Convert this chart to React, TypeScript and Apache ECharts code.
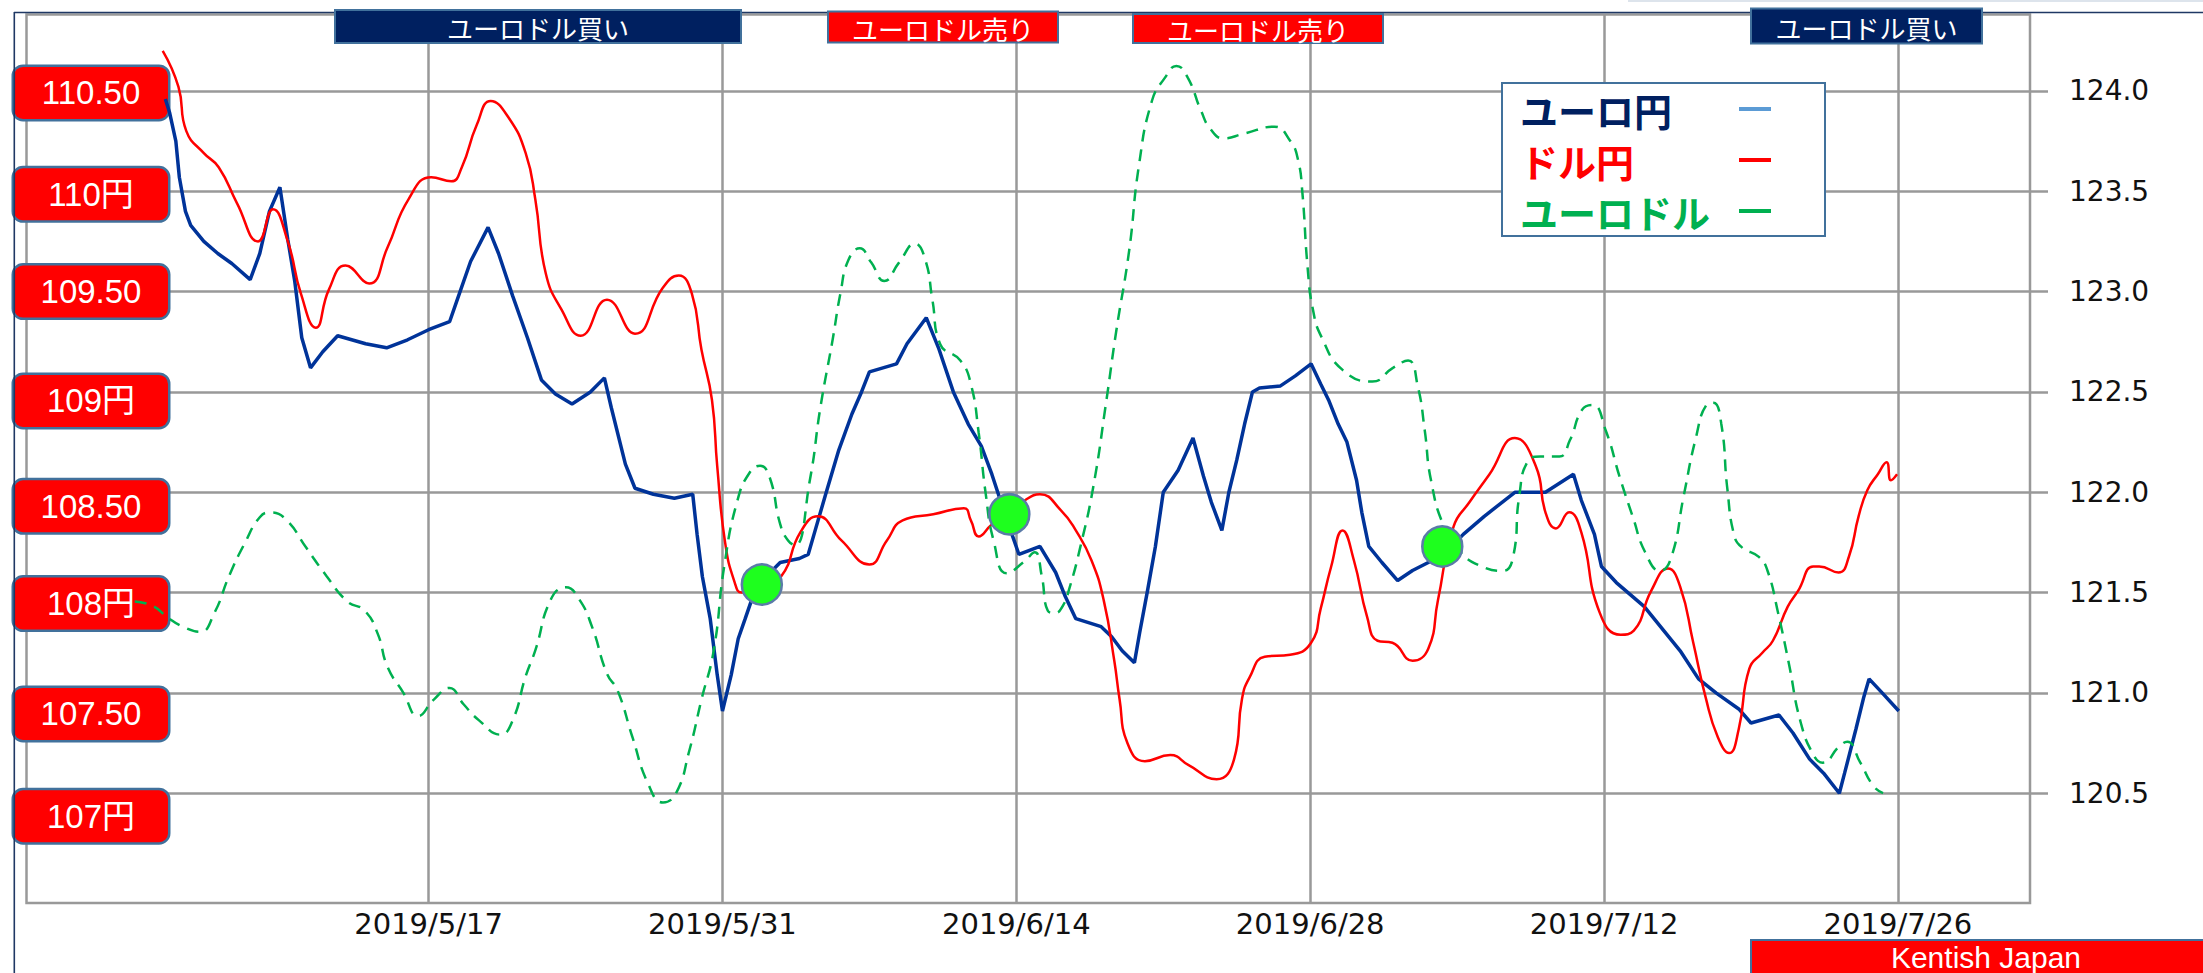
import React, { useEffect, useRef } from 'react';
import * as echarts from 'echarts';

// ---- axis ticks / labels ----
const xTickDates = ['2019-05-17', '2019-05-31', '2019-06-14', '2019-06-28', '2019-07-12', '2019-07-26'];
const rightTickValues = [120.5, 121, 121.5, 122, 122.5, 123, 123.5, 124];
const leftTickValues = [107, 107.5, 108, 108.5, 109, 109.5, 110, 110.5];
const leftTickLabels = ['107円', '107.50', '108円', '108.50', '109円', '109.50', '110円', '110.50'];
const leftLabelNudge = [23, 21, 11, 14, 9, 0, 3, 2];

const seriesNames = ['ユーロ円', 'ドル円', 'ユーロドル'];
const bannerTexts = ['ユーロドル買い', 'ユーロドル売り', 'ユーロドル売り', 'ユーロドル買い'];
const creditText = 'Kentish Japan';

// ---- ユーロ円 (right axis) ----
const eurJpyTimes = [
  '2019-05-04 11:00', '2019-05-04 16:00', '2019-05-04 23:00', '2019-05-05 03:00', '2019-05-05 10:00', '2019-05-05 16:00',
  '2019-05-06 07:00', '2019-05-06 23:00', '2019-05-07 15:00', '2019-05-08 12:00', '2019-05-08 23:00', '2019-05-09 10:00',
  '2019-05-09 22:00', '2019-05-10 07:00', '2019-05-10 15:00', '2019-05-10 23:00', '2019-05-11 09:00', '2019-05-11 23:00',
  '2019-05-12 16:00', '2019-05-13 08:00', '2019-05-14 00:00', '2019-05-15 00:00', '2019-05-16 00:00', '2019-05-17 00:00',
  '2019-05-18 00:00', '2019-05-18 08:00', '2019-05-19 00:00', '2019-05-19 20:00', '2019-05-20 08:00', '2019-05-21 00:00',
  '2019-05-21 17:00', '2019-05-22 09:00', '2019-05-23 01:00', '2019-05-23 20:00', '2019-05-24 17:00', '2019-05-25 09:00',
  '2019-05-25 17:00', '2019-05-26 09:00', '2019-05-26 20:00', '2019-05-27 17:00', '2019-05-28 17:00', '2019-05-29 14:00',
  '2019-05-29 19:00', '2019-05-30 01:00', '2019-05-30 10:00', '2019-05-30 18:00', '2019-05-31 00:00', '2019-05-31 10:00',
  '2019-05-31 18:00', '2019-06-01 02:00', '2019-06-01 13:00', '2019-06-02 02:00', '2019-06-02 18:00', '2019-06-03 16:00',
  '2019-06-04 02:00', '2019-06-04 10:00', '2019-06-04 22:00', '2019-06-05 13:00', '2019-06-06 04:00', '2019-06-06 15:00',
  '2019-06-07 00:00', '2019-06-08 07:00', '2019-06-08 19:00', '2019-06-09 17:00', '2019-06-10 07:00', '2019-06-11 00:00',
  '2019-06-11 17:00', '2019-06-12 08:00', '2019-06-12 20:00', '2019-06-13 05:00', '2019-06-13 19:00', '2019-06-14 03:00',
  '2019-06-15 03:00', '2019-06-15 21:00', '2019-06-16 08:00', '2019-06-16 20:00', '2019-06-18 01:00', '2019-06-18 13:00',
  '2019-06-19 01:00', '2019-06-19 15:00', '2019-06-19 21:00', '2019-06-20 06:00', '2019-06-20 15:00', '2019-06-21 00:00',
  '2019-06-21 17:00', '2019-06-22 10:00', '2019-06-22 22:00', '2019-06-23 07:00', '2019-06-23 19:00', '2019-06-24 03:00',
  '2019-06-24 12:00', '2019-06-24 21:00', '2019-06-25 06:00', '2019-06-25 14:00', '2019-06-26 14:00', '2019-06-27 07:00',
  '2019-06-28 01:00', '2019-06-28 12:00', '2019-06-28 21:00', '2019-06-29 08:00', '2019-06-29 18:00', '2019-06-30 05:00',
  '2019-06-30 11:00', '2019-06-30 19:00', '2019-07-01 10:00', '2019-07-02 04:00', '2019-07-02 21:00', '2019-07-03 15:00',
  '2019-07-04 09:00', '2019-07-05 07:00', '2019-07-06 07:00', '2019-07-07 18:00', '2019-07-09 05:00', '2019-07-10 13:00',
  '2019-07-10 22:00', '2019-07-11 13:00', '2019-07-11 21:00', '2019-07-12 14:00', '2019-07-13 22:00', '2019-07-15 15:00',
  '2019-07-16 12:00', '2019-07-17 08:00', '2019-07-18 10:00', '2019-07-19 00:00', '2019-07-20 08:00', '2019-07-21 00:00',
  '2019-07-21 19:00', '2019-07-22 11:00', '2019-07-23 05:00', '2019-07-23 11:00', '2019-07-24 00:00', '2019-07-24 09:00',
  '2019-07-24 15:00', '2019-07-25 06:00', '2019-07-26 01:00',
];
const eurJpyValues = [
  123.96, 123.89, 123.75, 123.57, 123.40, 123.33,
  123.25, 123.19, 123.14, 123.06, 123.19, 123.40,
  123.52, 123.26, 123.05, 122.77, 122.62, 122.70,
  122.78, 122.76, 122.74, 122.72, 122.76, 122.81,
  122.85, 122.95, 123.15, 123.32, 123.19, 122.98,
  122.77, 122.56, 122.49, 122.44, 122.50, 122.57,
  122.42, 122.14, 122.02, 121.99, 121.97, 121.99,
  121.79, 121.58, 121.37, 121.09, 120.91, 121.09,
  121.27, 121.37, 121.51, 121.58, 121.65, 121.67,
  121.69, 121.81, 121.99, 122.21, 122.39, 122.50,
  122.60, 122.64, 122.74, 122.87, 122.72, 122.50,
  122.34, 122.23, 122.09, 121.97, 121.79, 121.69,
  121.73, 121.60, 121.48, 121.37, 121.33, 121.28,
  121.21, 121.15, 121.30, 121.51, 121.73, 122.00,
  122.11, 122.27, 122.08, 121.95, 121.81, 122.00,
  122.16, 122.34, 122.50, 122.52, 122.53, 122.58,
  122.64, 122.54, 122.46, 122.34, 122.25, 122.06,
  121.90, 121.73, 121.65, 121.56, 121.61, 121.65,
  121.69, 121.79, 121.88, 122.00, 122.00, 122.09,
  121.96, 121.79, 121.63, 121.55, 121.43, 121.21,
  121.07, 121.00, 120.92, 120.85, 120.89, 120.80,
  120.67, 120.60, 120.50, 120.60, 120.82, 120.98,
  121.07, 121.00, 120.91,
];

// ---- ドル円 (left axis) ----
const usdJpyTimes = [
  '2019-05-04 08:00', '2019-05-05 02:00', '2019-05-05 11:00', '2019-05-06 07:00', '2019-05-07 00:00', '2019-05-07 21:00',
  '2019-05-08 21:00', '2019-05-09 14:00', '2019-05-10 07:00', '2019-05-10 22:00', '2019-05-11 15:00', '2019-05-12 06:00',
  '2019-05-13 01:00', '2019-05-14 04:00', '2019-05-15 01:00', '2019-05-16 01:00', '2019-05-17 03:00', '2019-05-18 02:00',
  '2019-05-18 14:00', '2019-05-19 07:00', '2019-05-19 23:00', '2019-05-20 19:00', '2019-05-21 15:00', '2019-05-22 02:00',
  '2019-05-22 14:00', '2019-05-23 08:00', '2019-05-24 06:00', '2019-05-25 12:00', '2019-05-26 20:00', '2019-05-28 04:00',
  '2019-05-28 22:00', '2019-05-29 13:00', '2019-05-30 00:00', '2019-05-30 12:00', '2019-05-30 18:00', '2019-05-31 03:00',
  '2019-05-31 14:00', '2019-05-31 22:00', '2019-06-01 19:00', '2019-06-02 19:00', '2019-06-03 17:00', '2019-06-04 13:00',
  '2019-06-05 16:00', '2019-06-07 00:00', '2019-06-07 20:00', '2019-06-08 14:00', '2019-06-10 01:00', '2019-06-11 12:00',
  '2019-06-11 20:00', '2019-06-12 05:00', '2019-06-12 20:00', '2019-06-14 10:00', '2019-06-15 03:00', '2019-06-16 03:00',
  '2019-06-16 20:00', '2019-06-17 14:00', '2019-06-18 04:00', '2019-06-18 16:00', '2019-06-18 22:00', '2019-06-19 07:00',
  '2019-06-20 03:00', '2019-06-21 08:00', '2019-06-22 05:00', '2019-06-23 13:00', '2019-06-24 09:00', '2019-06-24 18:00',
  '2019-06-25 03:00', '2019-06-25 20:00', '2019-06-27 01:00', '2019-06-28 01:00', '2019-06-28 12:00', '2019-06-29 00:00',
  '2019-06-29 13:00', '2019-06-30 02:00', '2019-06-30 17:00', '2019-07-01 05:00', '2019-07-01 22:00', '2019-07-02 21:00',
  '2019-07-03 15:00', '2019-07-04 02:00', '2019-07-04 20:00', '2019-07-05 14:00', '2019-07-06 13:00', '2019-07-07 18:00',
  '2019-07-08 18:00', '2019-07-09 05:00', '2019-07-09 17:00', '2019-07-10 08:00', '2019-07-10 22:00', '2019-07-11 19:00',
  '2019-07-12 19:00', '2019-07-13 10:00', '2019-07-14 06:00', '2019-07-15 01:00', '2019-07-15 15:00', '2019-07-16 06:00',
  '2019-07-16 20:00', '2019-07-17 10:00', '2019-07-17 23:00', '2019-07-18 10:00', '2019-07-18 22:00', '2019-07-19 13:00',
  '2019-07-20 01:00', '2019-07-20 18:00', '2019-07-21 06:00', '2019-07-21 23:00', '2019-07-22 06:00', '2019-07-23 04:00',
  '2019-07-23 16:00', '2019-07-24 03:00', '2019-07-24 13:00', '2019-07-25 01:00', '2019-07-25 11:00', '2019-07-25 16:00',
  '2019-07-25 23:00',
];
const usdJpyValues = [
  110.70, 110.52, 110.30, 110.19, 110.12, 109.94,
  109.75, 109.91, 109.75, 109.49, 109.32, 109.51,
  109.63, 109.54, 109.72, 109.96, 110.07, 110.05,
  110.12, 110.33, 110.45, 110.37, 110.19, 109.96,
  109.59, 109.41, 109.28, 109.46, 109.29, 109.52,
  109.58, 109.49, 109.21, 108.96, 108.63, 108.25,
  108.05, 108.00, 108.03, 108.08, 108.30, 108.38,
  108.26, 108.14, 108.26, 108.36, 108.39, 108.42,
  108.36, 108.28, 108.34, 108.46, 108.49, 108.41,
  108.31, 108.16, 107.96, 107.66, 107.47, 107.25,
  107.16, 107.19, 107.14, 107.07, 107.17, 107.47,
  107.58, 107.68, 107.69, 107.75, 107.92, 108.13,
  108.31, 108.16, 107.88, 107.76, 107.75, 107.66,
  107.72, 107.96, 108.33, 108.45, 108.59, 108.77,
  108.63, 108.40, 108.32, 108.40, 108.30, 107.90,
  107.79, 107.81, 108.01, 108.12, 108.03, 107.75,
  107.48, 107.28, 107.20, 107.32, 107.62, 107.70,
  107.76, 107.93, 108.01, 108.13, 108.13, 108.10,
  108.18, 108.38, 108.51, 108.59, 108.65, 108.56,
  108.59,
];

// ---- ユーロドル (hidden third axis) ----
const eurUsdTimes = [
  '2019-05-03 00:00', '2019-05-03 21:00', '2019-05-04 14:00', '2019-05-05 08:00', '2019-05-06 03:00', '2019-05-06 19:00',
  '2019-05-07 12:00', '2019-05-08 06:00', '2019-05-08 23:00', '2019-05-09 11:00', '2019-05-10 05:00', '2019-05-11 04:00',
  '2019-05-12 03:00', '2019-05-13 03:00', '2019-05-13 23:00', '2019-05-14 14:00', '2019-05-15 01:00', '2019-05-15 19:00',
  '2019-05-16 12:00', '2019-05-17 06:00', '2019-05-18 00:00', '2019-05-18 16:00', '2019-05-19 10:00', '2019-05-20 10:00',
  '2019-05-21 00:00', '2019-05-21 15:00', '2019-05-22 02:00', '2019-05-22 20:00', '2019-05-23 13:00', '2019-05-24 04:00',
  '2019-05-24 19:00', '2019-05-25 12:00', '2019-05-26 00:00', '2019-05-26 17:00', '2019-05-27 11:00', '2019-05-28 04:00',
  '2019-05-28 19:00', '2019-05-29 10:00', '2019-05-30 00:00', '2019-05-30 14:00', '2019-05-31 02:00', '2019-05-31 17:00',
  '2019-06-01 07:00', '2019-06-01 19:00', '2019-06-02 06:00', '2019-06-02 18:00', '2019-06-03 03:00', '2019-06-03 11:00',
  '2019-06-04 04:00', '2019-06-04 16:00', '2019-06-05 06:00', '2019-06-05 15:00', '2019-06-06 00:00', '2019-06-06 13:00',
  '2019-06-07 02:00', '2019-06-07 17:00', '2019-06-08 10:00', '2019-06-09 04:00', '2019-06-09 16:00', '2019-06-10 00:00',
  '2019-06-10 09:00', '2019-06-11 08:00', '2019-06-11 20:00', '2019-06-12 05:00', '2019-06-12 13:00', '2019-06-12 22:00',
  '2019-06-13 13:00', '2019-06-14 09:00', '2019-06-14 21:00', '2019-06-15 05:00', '2019-06-15 12:00', '2019-06-15 20:00',
  '2019-06-16 05:00', '2019-06-16 13:00', '2019-06-17 01:00', '2019-06-17 16:00', '2019-06-18 07:00', '2019-06-18 18:00',
  '2019-06-19 09:00', '2019-06-19 20:00', '2019-06-20 11:00', '2019-06-21 02:00', '2019-06-21 15:00', '2019-06-22 04:00',
  '2019-06-22 19:00', '2019-06-23 06:00', '2019-06-23 21:00', '2019-06-24 20:00', '2019-06-26 07:00', '2019-06-27 01:00',
  '2019-06-27 10:00', '2019-06-27 15:00', '2019-06-27 21:00', '2019-06-28 03:00', '2019-06-28 13:00', '2019-06-29 13:00',
  '2019-06-30 23:00', '2019-07-01 23:00', '2019-07-02 16:00', '2019-07-03 03:00', '2019-07-03 11:00', '2019-07-03 18:00',
  '2019-07-04 09:00', '2019-07-05 04:00', '2019-07-06 04:00', '2019-07-07 04:00', '2019-07-07 16:00', '2019-07-07 23:00',
  '2019-07-08 09:00', '2019-07-08 23:00', '2019-07-09 21:00', '2019-07-10 09:00', '2019-07-10 23:00', '2019-07-11 11:00',
  '2019-07-12 02:00', '2019-07-12 18:00', '2019-07-13 09:00', '2019-07-13 23:00', '2019-07-14 16:00', '2019-07-15 05:00',
  '2019-07-15 19:00', '2019-07-16 09:00', '2019-07-16 21:00', '2019-07-17 05:00', '2019-07-17 14:00', '2019-07-17 21:00',
  '2019-07-18 05:00', '2019-07-18 14:00', '2019-07-19 09:00', '2019-07-19 19:00', '2019-07-20 07:00', '2019-07-20 19:00',
  '2019-07-21 09:00', '2019-07-22 00:00', '2019-07-22 10:00', '2019-07-23 05:00', '2019-07-23 14:00', '2019-07-24 05:00',
  '2019-07-24 20:00', '2019-07-25 07:00',
];
const eurUsdValues = [
  1.1179, 1.1177, 1.1172, 1.1168, 1.1166, 1.1174,
  1.1190, 1.1204, 1.1215, 1.1217, 1.1214, 1.1202,
  1.1190, 1.1179, 1.1175, 1.1165, 1.1151, 1.1140,
  1.1130, 1.1137, 1.1142, 1.1135, 1.1128, 1.1122,
  1.1128, 1.1147, 1.1158, 1.1180, 1.1185, 1.1180,
  1.1168, 1.1148, 1.1141, 1.1121, 1.1101, 1.1093,
  1.1097, 1.1115, 1.1137, 1.1158, 1.1194, 1.1222,
  1.1234, 1.1237, 1.1232, 1.1212, 1.1205, 1.1203,
  1.1231, 1.1262, 1.1291, 1.1311, 1.1325, 1.1330,
  1.1324, 1.1316, 1.1324, 1.1332, 1.1325, 1.1308,
  1.1289, 1.1282, 1.1272, 1.1251, 1.1225, 1.1205,
  1.1191, 1.1196, 1.1200, 1.1190, 1.1175, 1.1174,
  1.1177, 1.1185, 1.1202, 1.1228, 1.1265, 1.1294,
  1.1329, 1.1365, 1.1393, 1.1403, 1.1408, 1.1403,
  1.1389, 1.1381, 1.1377, 1.1379, 1.1382, 1.1376,
  1.1368, 1.1354, 1.1322, 1.1304, 1.1292, 1.1278,
  1.1273, 1.1279, 1.1282, 1.1271, 1.1252, 1.1231,
  1.1211, 1.1200, 1.1194, 1.1192, 1.1198, 1.1224,
  1.1239, 1.1241, 1.1241, 1.1248, 1.1261, 1.1263,
  1.1252, 1.1232, 1.1215, 1.1200, 1.1192, 1.1198,
  1.1224, 1.1249, 1.1263, 1.1264, 1.1255, 1.1227,
  1.1207, 1.1202, 1.1198, 1.1192, 1.1174, 1.1153,
  1.1127, 1.1113, 1.1110, 1.1117, 1.1119, 1.1110,
  1.1100, 1.1097,
];

// ---- signal circles (on the ユーロ円 scale) ----
const signalTimes = ['2019-06-01 21:00', '2019-06-13 16:00', '2019-07-04 07:00'];
const signalValues = [121.54, 121.89, 121.73];

// local-time parse of 'YYYY-MM-DD[ HH:MM]'
const ts = (s: string) => {
  const [d, t = '00:00'] = s.split(' ');
  const [y, m, dd] = d.split('-').map(Number);
  const [hh, mm] = t.split(':').map(Number);
  return new Date(y, m - 1, dd, hh, mm).getTime();
};
const zip = (tsList: string[], vs: number[]) => tsList.map((t, i) => [ts(t), vs[i]]);

const FONT_NUM = 'DejaVu Sans, Liberation Sans, sans-serif';
const FONT_JP = 'Noto Sans CJK JP, sans-serif';
const FONT_BOX = 'Liberation Sans, Noto Sans CJK JP, sans-serif';
const GRID = '#999999';
const OFFICE_BORDER = '#41719C';

function buildOption() {
  const leftRich: Record<string, any> = {
    box: {
      width: 154,
      height: 52,
      lineHeight: 52,
      align: 'center',
      verticalAlign: 'middle',
      backgroundColor: '#FF0000',
      borderColor: OFFICE_BORDER,
      borderWidth: 2.5,
      borderRadius: 9,
      color: '#ffffff',
      fontSize: 33,
      fontFamily: FONT_BOX,
    },
  };
  leftLabelNudge.forEach((n, i) => {
    if (n > 0) {
      leftRich['g' + i] = { width: 1, height: n * 2, lineHeight: n * 2, fontSize: 1 };
    }
  });

  const legendColors = ['#002060', '#FF0000', '#00B050'];
  const legendIconColors = ['#5B9BD5', '#FF0000', '#00B050'];
  const legendRich: Record<string, any> = {};
  seriesNames.forEach((_, i) => {
    legendRich['t' + i] = {
      width: 214,
      height: 42,
      lineHeight: 42,
      align: 'left',
      fontSize: 38,
      fontWeight: 'bold',
      fontFamily: FONT_JP,
      color: legendColors[i],
    };
  });

  const banners = [
    { x: 335, y: 10, w: 406, h: 33, fill: '#002060' },
    { x: 828, y: 11.5, w: 230, h: 31, fill: '#FF0000' },
    { x: 1133, y: 14, w: 250, h: 29, fill: '#FF0000' },
    { x: 1751, y: 8.5, w: 231, h: 35, fill: '#002060' },
  ];

  const graphic: any[] = [
    { type: 'line', z: 5, shape: { x1: 1628, y1: 1, x2: 2203, y2: 1 }, style: { stroke: '#dde4ec', lineWidth: 2 } },
    { type: 'line', z: 5, shape: { x1: 14.3, y1: 12, x2: 14.3, y2: 973 }, style: { stroke: '#1F3864', lineWidth: 1.6 } },
    { type: 'line', z: 5, shape: { x1: 14, y1: 12.5, x2: 2203, y2: 12.5 }, style: { stroke: '#1F3864', lineWidth: 1.6 } },
  ];
  banners.forEach((b, i) => {
    graphic.push({
      type: 'rect', z: 20,
      shape: { x: b.x, y: b.y, width: b.w, height: b.h },
      style: { fill: b.fill, stroke: OFFICE_BORDER, lineWidth: 2 },
    });
    graphic.push({
      type: 'text', z: 21,
      style: {
        text: bannerTexts[i], x: b.x + b.w / 2, y: b.y + b.h / 2 + 1,
        fill: '#ffffff', fontSize: 26, fontFamily: FONT_JP, align: 'center', verticalAlign: 'middle',
      },
    });
  });
  graphic.push({
    type: 'rect', z: 20,
    shape: { x: 1751, y: 940, width: 470, height: 45 },
    style: { fill: '#FF0000', stroke: OFFICE_BORDER, lineWidth: 2 },
  });
  graphic.push({
    type: 'text', z: 21,
    style: {
      text: creditText, x: 1986, y: 957, fill: '#ffffff', fontSize: 30,
      fontFamily: 'Liberation Sans, sans-serif', align: 'center', verticalAlign: 'middle',
    },
  });

  const xTicks = xTickDates.map(ts);

  return {
    animation: false,
    backgroundColor: '#ffffff',
    grid: {
      left: 26.5, top: 14.5, right: 173, bottom: 70,
      show: true, borderColor: GRID, borderWidth: 2.5, backgroundColor: 'transparent',
      outerBoundsMode: 'none',
    },
    legend: {
      orient: 'vertical',
      left: 1502,
      top: 83,
      align: 'right',
      icon: 'rect',
      itemWidth: 32,
      itemHeight: 4,
      itemGap: 9,
      padding: [5, 54, 4, 18],
      backgroundColor: '#ffffff',
      borderColor: OFFICE_BORDER,
      borderWidth: 2,
      selectedMode: false,
      formatter: (name: string) => `{t${seriesNames.indexOf(name)}|${name}}`,
      textStyle: { fontSize: 38, fontWeight: 'bold', fontFamily: FONT_JP, rich: legendRich },
      data: seriesNames.map((n, i) => ({
        name: n,
        textStyle: { color: legendColors[i] },
        itemStyle: { color: legendIconColors[i], borderWidth: 0 },
      })),
    },
    xAxis: {
      type: 'value',
      min: ts('2019-04-27 20:15'),
      max: ts('2019-08-01 07:00'),
      axisLine: { show: false },
      axisTick: { show: false, customValues: xTicks },
      splitLine: { show: true, lineStyle: { color: GRID, width: 2.5 } },
      axisLabel: {
        customValues: xTicks,
        margin: 6,
        fontSize: 29,
        color: '#111111',
        fontFamily: FONT_NUM,
        formatter: (v: number) => {
          const d = new Date(v);
          return `${d.getFullYear()}/${d.getMonth() + 1}/${d.getDate()}`;
        },
      },
    },
    yAxis: [
      {
        type: 'value',
        position: 'left',
        min: 106.453,
        max: 110.881,
        axisLine: { show: false },
        axisTick: { show: false, customValues: leftTickValues },
        splitLine: { show: false },
        axisLabel: {
          customValues: leftTickValues,
          margin: -141.5,
          rich: leftRich,
          formatter: (v: number) => {
            const i = leftTickValues.findIndex((t) => Math.abs(t - v) < 1e-6);
            if (i < 0) return '';
            const n = leftLabelNudge[i];
            return n > 0 ? `{g${i}| }\n{box|${leftTickLabels[i]}}` : `{box|${leftTickLabels[i]}}`;
          },
        },
      },
      {
        type: 'value',
        position: 'right',
        min: 119.953,
        max: 124.381,
        axisLine: { show: false },
        axisTick: {
          show: true, length: 18, inside: false, customValues: rightTickValues,
          lineStyle: { color: GRID, width: 2.5 },
        },
        splitLine: { show: true, lineStyle: { color: GRID, width: 2.5 } },
        axisLabel: {
          customValues: rightTickValues,
          margin: 39,
          fontSize: 28,
          color: '#111111',
          fontFamily: FONT_NUM,
          formatter: (v: number) => v.toFixed(1),
        },
      },
      {
        type: 'value',
        show: false,
        min: 1.105,
        max: 1.143,
        splitLine: { show: false },
      },
    ],
    series: [
      {
        name: seriesNames[0],
        type: 'line',
        yAxisIndex: 1,
        showSymbol: false,
        symbol: 'none',
        data: zip(eurJpyTimes, eurJpyValues),
        lineStyle: { color: '#003399', width: 3.5 },
        itemStyle: { color: '#003399' },
        z: 2,
      },
      {
        name: seriesNames[1],
        type: 'line',
        yAxisIndex: 0,
        smooth: true,
        showSymbol: false,
        symbol: 'none',
        data: zip(usdJpyTimes, usdJpyValues),
        lineStyle: { color: '#FF0000', width: 2.5 },
        itemStyle: { color: '#FF0000' },
        z: 3,
      },
      {
        name: seriesNames[2],
        type: 'line',
        yAxisIndex: 2,
        smooth: true,
        showSymbol: false,
        symbol: 'none',
        data: zip(eurUsdTimes, eurUsdValues),
        lineStyle: { color: '#00B050', width: 2.5, type: [12, 8] },
        itemStyle: { color: '#00B050' },
        z: 3,
      },
      {
        name: 'signal',
        type: 'scatter',
        yAxisIndex: 1,
        symbol: 'circle',
        symbolSize: [40, 40],
        data: zip(signalTimes, signalValues),
        itemStyle: { color: '#1EFF1E', borderColor: '#5B7BA8', borderWidth: 2.5, opacity: 1 },
        z: 5,
      },
    ],
    graphic,
  };
}

export default function App() {
  const ref = useRef<HTMLDivElement>(null);
  useEffect(() => {
    if (!ref.current) return;
    const chart = echarts.init(ref.current, null, { renderer: 'svg' });
    chart.setOption(buildOption() as any);
    return () => chart.dispose();
  }, []);
  return (
    <div
      ref={ref}
      style={{ position: 'fixed', left: 0, top: 0, width: '2203px', height: '973px', background: '#ffffff' }}
    />
  );
}
